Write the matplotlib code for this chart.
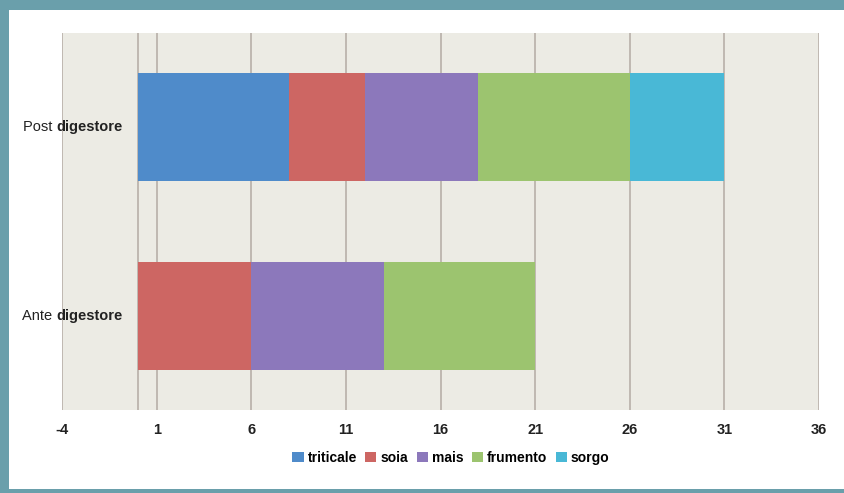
import matplotlib.pyplot as plt
from matplotlib.patches import Patch

categorie = ['Ante digestore', 'Post digestore']
colture = ['triticale', 'soia', 'mais', 'frumento', 'sorgo']
colori = ['#4f8bca', '#cd6663', '#8c78bb', '#9cc46f', '#49b8d6']

# valori per coltura: [Ante, Post]
triticale = [0, 8]
soia = [6, 4]
mais = [7, 6]
frumento = [8, 8]
sorgo = [0, 5]
serie = [triticale, soia, mais, frumento, sorgo]

tick_x = [-4, 1, 6, 11, 16, 21, 26, 31, 36]

plt.rcParams['font.family'] = ['Liberation Sans', 'DejaVu Sans']

W, H = 844, 493
fig = plt.figure(figsize=(W / 100, H / 100), dpi=100)
fig.patch.set_facecolor('#6a9fab')

# pannello bianco
bg = fig.add_axes([9 / W, 4 / H, 1, 479 / H], zorder=-10)
bg.set_axis_off()
bg.add_patch(plt.Rectangle((0, 0), 1, 1, transform=bg.transAxes, color='white'))

ax = fig.add_axes([62 / W, 1 - 410 / H, (819 - 62) / W, (410 - 33) / H])
ax.set_facecolor('#ecebe4')

y = list(range(len(categorie)))
left = [0, 0]
for nome, vals, col in zip(colture, serie, colori):
    ax.barh(y, vals, left=left, height=0.575, color=col, label=nome, zorder=2)
    left = [a + b for a, b in zip(left, vals)]

ax.set_xlim(-4, 36)
ax.set_ylim(-0.5, 1.5)
ax.set_xticks(tick_x)
ax.set_xticklabels([str(t) for t in tick_x], fontsize=10.5, fontweight='bold', color='#222222')
ax.tick_params(axis='x', length=0, pad=9)
ax.set_yticks([])
for t in tick_x + [0]:
    ax.axvline(t, color='#b3aaa4', lw=1.1, zorder=1)
for s in ax.spines.values():
    s.set_visible(False)

# etichette: prima parola normale, "digestore" in grassetto
for yi, cat in zip(y, categorie):
    prima, seconda = cat.split(' ')
    t2 = ax.text(-0.8, yi, seconda, ha='right', va='center', fontsize=10.5, fontweight='bold',
                 color='#222222', zorder=3)
    ax.annotate(prima + ' ', xy=(0, 0.5), xycoords=t2, ha='right', va='center',
                fontsize=10.5, color='#222222', zorder=3)

handles = [Patch(facecolor=c, label=n) for n, c in zip(colture, colori)]
fig.legend(handles=handles, loc='center', bbox_to_anchor=(451 / W, 1 - 458 / H), ncol=5,
           frameon=False, handlelength=0.8, handleheight=0.8,
           handletextpad=0.3, columnspacing=0.6, prop={'weight': 'bold', 'size': 10})

fig.savefig('out.png', dpi=100, facecolor=fig.get_facecolor())
